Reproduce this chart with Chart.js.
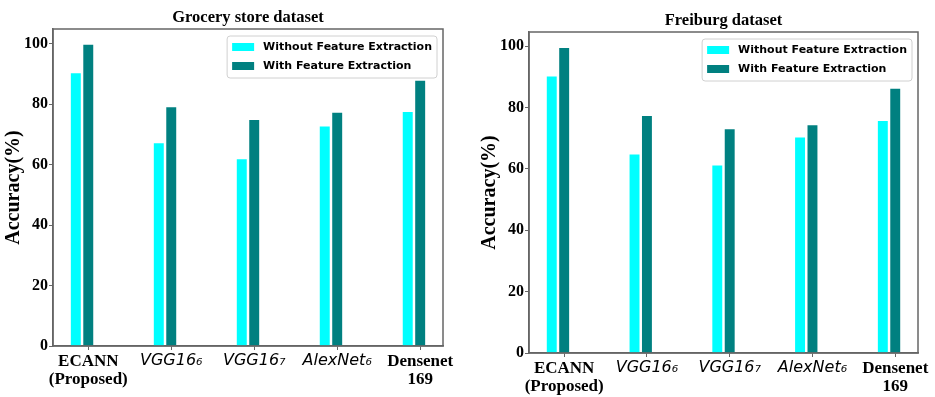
<!DOCTYPE html>
<html>
<head>
<meta charset="utf-8">
<script src="https://cdn.jsdelivr.net/npm/chart.js@4"></script>
<style>
    html, body { margin: 0; padding: 0; background: #fff; }
    #wrap { position: relative; width: 935px; height: 397px; }
    .panel { position: absolute; top: 0; height: 397px; }
    #left-panel { left: 0; width: 467px; }
    #right-panel { left: 467px; width: 468px; }
</style>
</head>
<body>
<div id="wrap">
    <div class="panel" id="left-panel"><canvas id="grocery-chart"></canvas></div>
    <div class="panel" id="right-panel"><canvas id="freiburg-chart"></canvas></div>
</div>
<script>
// categories shared by both panels
const categories = [
    ['ECANN', '(Proposed)'],
    'VGG16\u2086',
    'VGG16\u2087',
    'AlexNet\u2086',
    ['Densenet', '169']
];
const italicLabels = [false, true, true, true, false];
const seriesNames = ['Without Feature Extraction', 'With Feature Extraction'];
const yTicks = [0, 20, 40, 60, 80, 100];

// Grocery store dataset
const groceryWithout = [90.2, 67.0, 61.7, 72.6, 77.4];
const groceryWith = [99.6, 78.9, 74.7, 77.1, 87.7];

// Freiburg dataset
const freiburgWithout = [90.1, 64.7, 61.1, 70.2, 75.6];
const freiburgWith = [99.4, 77.2, 72.9, 74.2, 86.1];

const colors = ['#00ffff', '#008080'];
const barShift = 0.15;   // cyan bar sits left of the tick, teal on it

const serif = "'Liberation Serif', 'Times New Roman', serif";
const sans = "'DejaVu Sans', sans-serif";

// draws frame, title and boxed legend
const decorPlugin = {
    id: 'decor',
    afterDraw(chart, args, opts) {
        const ctx = chart.ctx;
        const a = chart.chartArea;
        ctx.save();
        // axes frame
        ctx.strokeStyle = '#666';
        ctx.lineWidth = 1.5;
        ctx.strokeRect(a.left, a.top, a.right - a.left, a.bottom - a.top);

        // title centred over the axes
        ctx.fillStyle = '#000';
        ctx.font = 'bold 16.5px ' + serif;
        ctx.textAlign = 'center';
        ctx.textBaseline = 'alphabetic';
        ctx.fillText(opts.title, (a.left + a.right) / 2, a.top - 7);

        // legend box
        ctx.font = 'bold 11px ' + sans;
        const names = chart.data.datasets.map(d => d.label);
        const textW = Math.max(...names.map(n => ctx.measureText(n).width));
        const boxW = textW + 41;
        const boxH = 42;
        const bx = a.right - 6 - boxW;
        const by = a.top + 7;
        ctx.strokeStyle = '#d0d0d0';
        ctx.lineWidth = 1;
        ctx.beginPath();
        ctx.roundRect(bx, by, boxW, boxH, 3);
        ctx.fillStyle = 'rgba(255,255,255,0.8)';
        ctx.fill();
        ctx.stroke();
        ctx.textAlign = 'left';
        ctx.textBaseline = 'middle';
        chart.data.datasets.forEach((d, i) => {
            const cy = by + 11 + i * 19;
            ctx.fillStyle = d.backgroundColor;
            ctx.fillRect(bx + 5, cy - 4, 22, 8);
            ctx.fillStyle = '#000';
            ctx.fillText(d.label, bx + 36, cy + 0.5);
        });
        ctx.restore();
    }
};

function makeChart(canvasId, title, without, withFe, layout) {
    const toPoints = (vals, shift) => vals.map((v, i) => ({ x: i - shift, y: v }));
    new Chart(document.getElementById(canvasId), {
        type: 'bar',
        data: {
            datasets: [
                {
                    label: seriesNames[0],
                    data: toPoints(without, barShift),
                    backgroundColor: colors[0]
                },
                {
                    label: seriesNames[1],
                    data: toPoints(withFe, 0),
                    backgroundColor: colors[1]
                }
            ]
        },
        options: {
            responsive: true,
            maintainAspectRatio: false,
            animation: false,
            grouped: false,
            categoryPercentage: 1,
            barPercentage: 0.8,
            layout: { padding: layout.padding },
            plugins: {
                legend: { display: false },
                tooltip: { enabled: false },
                decor: { title: title }
            },
            scales: {
                x: {
                    type: 'linear',
                    offset: false,
                    min: -0.425,
                    max: 4.275,
                    afterBuildTicks: s => { s.ticks = categories.map((c, i) => ({ value: i })); },
                    afterFit: s => { s.height = layout.xHeight; },
                    grid: { display: true, offset: false, drawOnChartArea: false, drawTicks: true, tickLength: 4, color: '#666' },
                    border: { display: true, color: '#666', width: 1.5 },
                    ticks: {
                        autoSkip: false,
                        maxRotation: 0,
                        padding: 2,
                        color: '#000',
                        callback: v => categories[v],
                        font: c => italicLabels[c.index]
                            ? { family: sans, size: 16, style: 'italic', lineHeight: 1.1 }
                            : { family: serif, size: 17, weight: 'bold', lineHeight: 1.08 }
                    }
                },
                y: {
                    min: 0,
                    max: layout.yMax,
                    afterBuildTicks: s => { s.ticks = yTicks.map(v => ({ value: v })); },
                    afterFit: s => { s.width = 53; },
                    grid: { display: true, drawOnChartArea: false, drawTicks: true, tickLength: 4, color: '#666' },
                    border: { display: true, color: '#666', width: 1.5 },
                    ticks: {
                        padding: 1,
                        color: '#000',
                        font: { family: serif, size: 16, weight: 'bold' }
                    },
                    title: {
                        display: true,
                        text: 'Accuracy(%)',
                        color: '#000',
                        padding: { top: 2, bottom: 0 },
                        font: { family: serif, size: 20, weight: 'bold' }
                    }
                }
            }
        },
        plugins: [decorPlugin]
    });
}

makeChart('grocery-chart', 'Grocery store dataset', groceryWithout, groceryWith, {
    padding: { left: 0, right: 24, top: 29, bottom: 0 },
    xHeight: 51,
    yMax: 104.8
});

makeChart('freiburg-chart', 'Freiburg dataset', freiburgWithout, freiburgWith, {
    padding: { left: 9, right: 17, top: 32, bottom: 0 },
    xHeight: 44,
    yMax: 104.6
});
</script>
</body>
</html>
